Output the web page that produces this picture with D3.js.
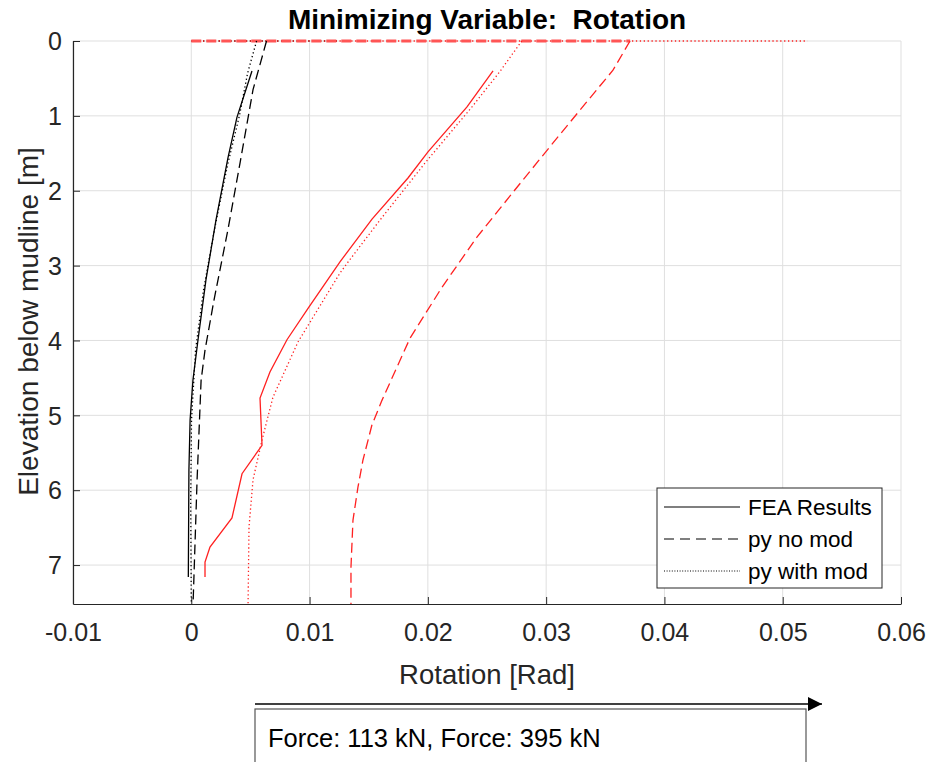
<!DOCTYPE html>
<html>
<head>
<meta charset="utf-8">
<script src="https://cdn.jsdelivr.net/npm/d3@7"></script>
<style>
  html, body { margin: 0; padding: 0; background: #fff; }
  svg { display: block; font-family: "Liberation Sans", Arial, sans-serif; }
</style>
</head>
<body>
<svg id="chart" width="931" height="762"></svg>
<script>
// ---------- data (rotation [rad], elevation [m]) ----------
const xTicks = [-0.01, 0, 0.01, 0.02, 0.03, 0.04, 0.05, 0.06];
const xTickLabels = ["-0.01", "0", "0.01", "0.02", "0.03", "0.04", "0.05", "0.06"];
const yTicks = [0, 1, 2, 3, 4, 5, 6, 7];
const yTickLabels = ["0", "1", "2", "3", "4", "5", "6", "7"];
const legendLabels = ["FEA Results", "py no mod", "py with mod"];
const annotationText = "Force: 113 kN, Force: 395 kN";

// Force 113 kN
const fea113Rot  = [0.00513, 0.00386, 0.00310, 0.00209, 0.00124, 0.00057, 0.00014, -0.00010, -0.00020, -0.00025];
const fea113Elev = [0.40, 1.02, 1.56, 2.39, 3.19, 3.99, 4.53, 5.06, 5.73, 7.16];
const noMod113Rot  = [0.00636, 0.00522, 0.00412, 0.00310, 0.00192, 0.00116, 0.00083, 0.00049, 0.00015];
const noMod113Elev = [0.00, 0.65, 1.63, 2.52, 3.46, 4.13, 4.53, 5.86, 7.52];
const withMod113Rot  = [0.00552, 0.00476, 0.00408, 0.00306, 0.00196, 0.00103, 0.00036, 0.00002, -0.00005, 0.00000];
const withMod113Elev = [0.00, 0.43, 0.99, 1.66, 2.52, 3.33, 4.13, 5.06, 6.13, 7.52];

// Force 395 kN
const fea395Rot  = [0.02551, 0.02331, 0.02001, 0.01832, 0.01528, 0.01257, 0.00987, 0.00809, 0.00665, 0.00581, 0.00598, 0.00429, 0.00344, 0.00158, 0.00116, 0.00116];
const fea395Elev = [0.40, 0.88, 1.48, 1.83, 2.38, 2.95, 3.57, 3.99, 4.42, 4.77, 5.40, 5.78, 6.37, 6.76, 6.96, 7.16];
const noMod395Rot  = [0.03709, 0.03565, 0.03345, 0.03033, 0.02720, 0.02415, 0.02119, 0.01849, 0.01612, 0.01527, 0.01451, 0.01409, 0.01367, 0.01350, 0.01350];
const noMod395Elev = [0.00, 0.39, 0.81, 1.41, 2.02, 2.62, 3.29, 3.97, 4.80, 5.13, 5.60, 5.96, 6.40, 7.03, 7.52];
const withMod395Rot  = [0.02794, 0.02608, 0.02373, 0.01976, 0.01596, 0.01317, 0.01257, 0.00979, 0.00902, 0.00690, 0.00598, 0.00522, 0.00488, 0.00480];
const withMod395Elev = [0.00, 0.41, 0.88, 1.63, 2.39, 2.97, 3.10, 3.82, 4.02, 4.76, 5.33, 5.86, 6.49, 7.52];

// segments along the mudline (elevation 0)
const mudlineBlackDotRot = [0, 0.0125];
const mudlineRedDotRot   = [0, 0.0521];
const mudlineRedDashRot  = [0, 0.0371];
const mudlineElev = [0, 0];

(function () {
// ---------- layout ----------
const svg = d3.select("#chart");
const pLeft = 73, pRight = 901, pTop = 41, pBottom = 604;
const x = d3.scaleLinear().domain([-0.01, 0.06]).range([pLeft, pRight]);
const y = d3.scaleLinear().domain([0, 7.52]).range([pTop, pBottom]);
const axisColor = "#262626";

// grid
const grid = svg.append("g");
grid.selectAll("line.vx").data(xTicks).enter().append("line")
  .attr("x1", d => x(d)).attr("x2", d => x(d)).attr("y1", pTop).attr("y2", pBottom)
  .attr("stroke", "#dfdfdf").attr("stroke-width", 1);
grid.selectAll("line.hy").data(yTicks).enter().append("line")
  .attr("x1", pLeft).attr("x2", pRight).attr("y1", d => y(d)).attr("y2", d => y(d))
  .attr("stroke", "#dfdfdf").attr("stroke-width", 1);

// axes (ticks inward)
const xAxis = d3.axisBottom(x).tickValues(xTicks).tickFormat((d, i) => xTickLabels[i]).tickSizeInner(-7).tickSizeOuter(0).tickPadding(19);
const yAxis = d3.axisLeft(y).tickValues(yTicks).tickFormat((d, i) => yTickLabels[i]).tickSizeInner(-7).tickSizeOuter(0).tickPadding(11);
const gx = svg.append("g").attr("transform", `translate(0,${pBottom})`).call(xAxis);
const gy = svg.append("g").attr("transform", `translate(${pLeft},0)`).call(yAxis);
[gx, gy].forEach(g => {
  g.select(".domain").attr("stroke", axisColor).attr("stroke-width", 1.2);
  g.selectAll(".tick line").attr("stroke", axisColor).attr("stroke-width", 1);
  g.selectAll(".tick text").attr("fill", axisColor).style("font-size", "25px").style("font-family", "Liberation Sans, Arial, sans-serif");
});
gx.selectAll(".tick text").attr("dy", "0.71em");
gy.selectAll(".tick text").attr("dy", "0.35em");

// lines
const line = (xs, ys) => d3.line().x((d, i) => x(xs[i])).y((d, i) => y(ys[i]))(xs);
const plot = svg.append("g");
const dashStyle = "10,5", dotStyle = "1.3,2.6";
function draw(xs, ys, color, dash, w) {
  plot.append("path").attr("d", line(xs, ys)).attr("fill", "none")
    .attr("stroke", color).attr("stroke-width", w || 1.3)
    .attr("stroke-dasharray", dash || null);
}
draw(mudlineBlackDotRot, mudlineElev, "#000", dotStyle, 1.6);
draw(mudlineRedDotRot, mudlineElev, "#ff2020", dotStyle, 1.6);
draw(mudlineRedDashRot, mudlineElev, "#ff5555", dashStyle, 3);

draw(fea113Rot, fea113Elev, "#000");
draw(noMod113Rot, noMod113Elev, "#000", dashStyle);
draw(withMod113Rot, withMod113Elev, "#000", dotStyle);
draw(fea395Rot, fea395Elev, "#ff2020");
draw(noMod395Rot, noMod395Elev, "#ff2020", dashStyle);
draw(withMod395Rot, withMod395Elev, "#ff2020", dotStyle);

// title and axis labels
svg.append("text").attr("x", (pLeft + pRight) / 2).attr("y", 29).attr("text-anchor", "middle")
  .style("font-size", "28px").style("font-weight", "bold").style("white-space", "pre").attr("fill", "#000")
  .text("Minimizing Variable:  Rotation");
svg.append("text").attr("x", (pLeft + pRight) / 2).attr("y", 684).attr("text-anchor", "middle")
  .style("font-size", "27.5px").attr("fill", axisColor).text("Rotation [Rad]");
svg.append("text").attr("transform", `translate(38,${(pTop + pBottom) / 2 - 1}) rotate(-90)`).attr("text-anchor", "middle")
  .style("font-size", "28px").attr("fill", axisColor).text("Elevation below mudline [m]");

// legend
const lg = svg.append("g");
lg.append("rect").attr("x", 657).attr("y", 488).attr("width", 225).attr("height", 100)
  .attr("fill", "#fff").attr("stroke", axisColor).attr("stroke-width", 1);
const lgDash = [null, "10,6", "1,1.6"];
legendLabels.forEach((lab, i) => {
  const yy = 507 + i * 32;
  lg.append("line").attr("x1", 664).attr("x2", 740).attr("y1", yy).attr("y2", yy)
    .attr("stroke", "#000").attr("stroke-width", 1.2).attr("stroke-dasharray", lgDash[i]);
  lg.append("text").attr("x", 748).attr("y", yy).attr("dy", "0.35em")
    .style("font-size", "22.5px").attr("fill", "#000").text(lab);
});

// annotation arrow and text box
const defs = svg.append("defs");
defs.append("marker").attr("id", "arrowhead").attr("viewBox", "0 0 10 10")
  .attr("refX", 10).attr("refY", 5).attr("markerWidth", 22).attr("markerHeight", 14)
  .attr("markerUnits", "userSpaceOnUse").attr("orient", "auto")
  .append("path").attr("d", "M0,0 L10,5 L0,10 Z").attr("fill", "#000");
svg.append("line").attr("x1", 255).attr("x2", 822).attr("y1", 704).attr("y2", 704)
  .attr("stroke", "#000").attr("stroke-width", 1.3).attr("marker-end", "url(#arrowhead)");
svg.append("rect").attr("x", 255).attr("y", 709).attr("width", 551).attr("height", 70)
  .attr("fill", "#fff").attr("stroke", "#555").attr("stroke-width", 1.2);
svg.append("text").attr("x", 268).attr("y", 738).attr("dy", "0.35em")
  .style("font-size", "25.5px").attr("fill", "#000").text(annotationText);
})();
</script>
</body>
</html>
